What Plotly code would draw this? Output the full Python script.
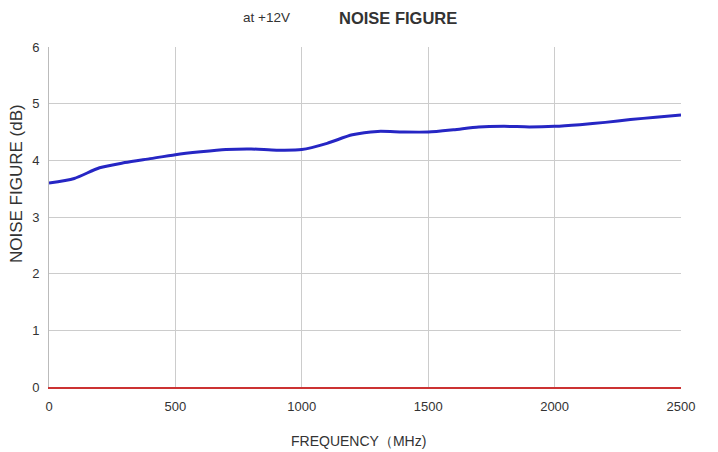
import plotly.graph_objects as go

freq = [0, 100, 200, 300, 400, 500, 600, 700, 800, 900, 1000, 1100, 1200, 1300,
        1400, 1500, 1600, 1700, 1800, 1900, 2000, 2100, 2200, 2300, 2400, 2500]
nf = [3.6, 3.68, 3.87, 3.96, 4.03, 4.1, 4.15, 4.19, 4.2, 4.18, 4.19, 4.3, 4.45, 4.51,
      4.5, 4.5, 4.54, 4.59, 4.6, 4.59, 4.6, 4.63, 4.67, 4.72, 4.76, 4.8]
x_ticks = [0, 500, 1000, 1500, 2000, 2500]
y_ticks = [0, 1, 2, 3, 4, 5, 6]

FONT = "Liberation Sans, Arial"
OFF = 8  # page body margin
L, R, T, B = 49 - OFF, 718 - 681 + OFF, 47 - OFF, 452 - 387 + OFF
W, H = 718, 452
pw, ph = W - L - R, H - T - B

def px2paper(px, py):
    return (px - OFF - L) / pw, (H - B - (py - OFF)) / ph

fig = go.Figure()
fig.add_trace(go.Scatter(x=freq, y=nf, mode="lines",
                         line=dict(color="#2626c4", width=3, shape="spline", smoothing=0.7),
                         showlegend=False))

ann = []
for text, px, py, size, ang in [("at +12V", 266, 17, 13.5, 0),
                                ("<b>NOISE FIGURE</b>", 398, 18, 16.5, 0),
                                ("FREQUENCY（MHz)", 358, 441, 14, 0),
                                ("NOISE FIGURE (dB)", 16, 184, 17, -90)]:
    x, y = px2paper(px, py)
    ann.append(dict(text=text, x=x, y=y, xref="paper", yref="paper", showarrow=False,
                    xanchor="center", yanchor="middle", textangle=ang,
                    font=dict(size=size, family=FONT, color="#333333")))

fig.update_layout(
    width=W, height=H,
    margin=dict(l=L, r=R, t=T, b=B),
    paper_bgcolor="white", plot_bgcolor="white",
    font=dict(family=FONT, size=12, color="#333333"),
    xaxis=dict(range=[0, 2500], tickvals=x_ticks, showgrid=True, gridcolor="#cccccc",
               gridwidth=1, zeroline=False, showline=True, linecolor="#cc3333", linewidth=1.5,
               ticks="outside", ticklen=7, tickcolor="rgba(0,0,0,0)",
               tickfont=dict(size=13, family=FONT, color="#333333")),
    yaxis=dict(range=[0, 6], tickvals=y_ticks, showgrid=True, gridcolor="#cccccc",
               gridwidth=1, zeroline=False, showline=True, linecolor="#bbbbbb", linewidth=1,
               ticks="outside", ticklen=6, tickcolor="rgba(0,0,0,0)",
               tickfont=dict(size=13, family=FONT, color="#333333")),
    annotations=ann,
)

fig.write_html("out.html")
